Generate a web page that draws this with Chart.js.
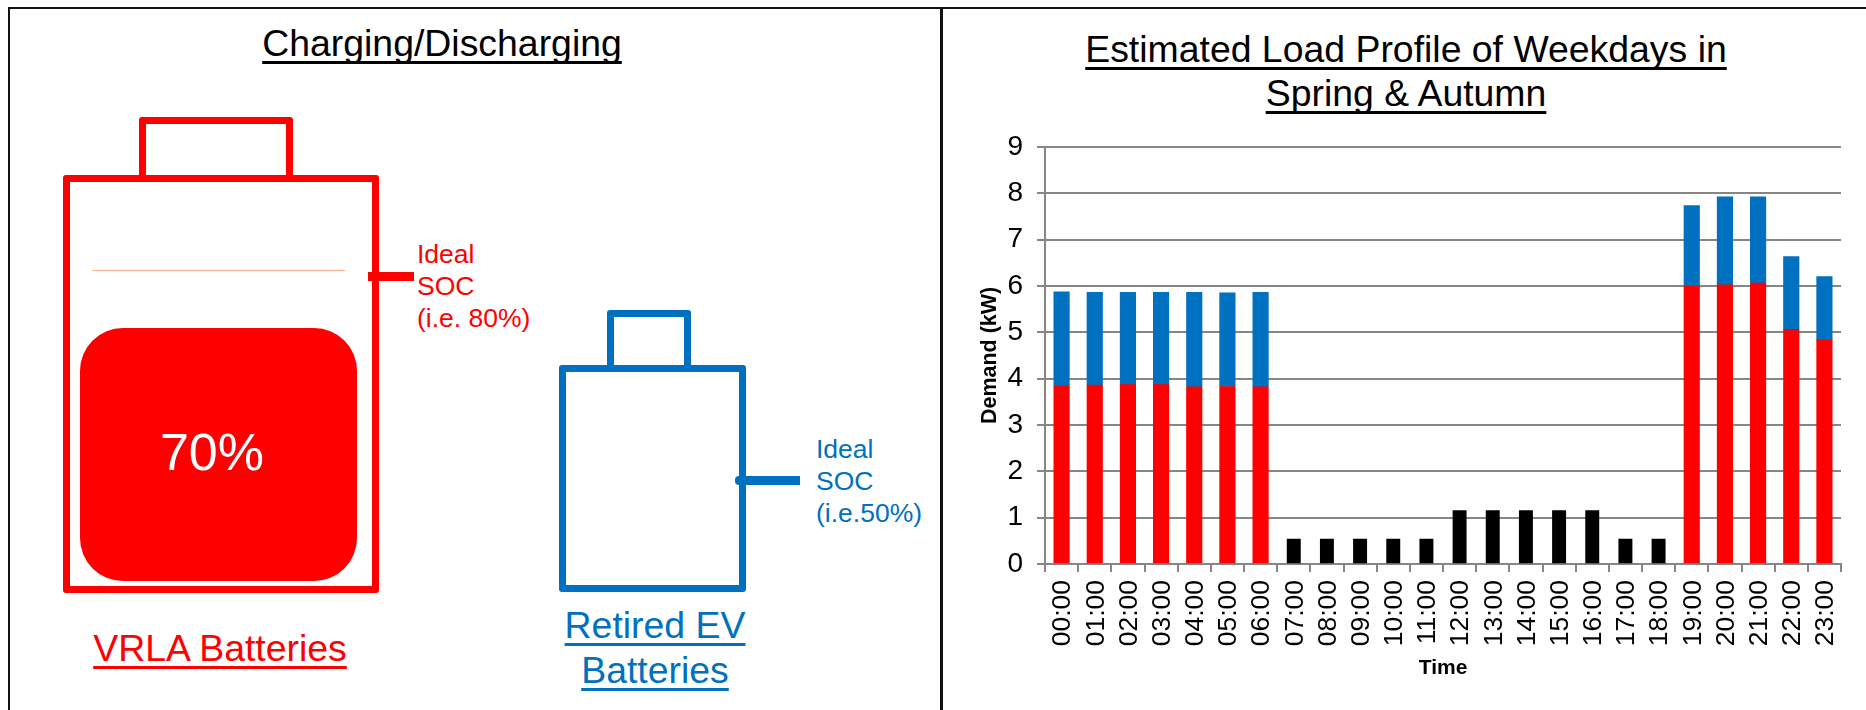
<!DOCTYPE html>
<html>
<head>
<meta charset="utf-8">
<title>Charging/Discharging</title>
<script src="https://cdn.jsdelivr.net/npm/chart.js@4"></script>
<style>
html, body { margin: 0; padding: 0; background: #fff; }
body { width: 1866px; height: 710px; position: relative; overflow: hidden; font-family: "Liberation Sans", Arial, sans-serif; }
.abs { position: absolute; box-sizing: border-box; }
.line { background: #111; }
.txt { white-space: nowrap; }
.head { font-size: 37.4px; text-align: center; text-decoration: underline; text-decoration-thickness: 3px; text-underline-offset: 5px; text-decoration-skip-ink: none; }
.soc { font-size: 26.5px; line-height: 32px; }
.red { color: #FF0000; }
.blue { color: #0070C0; }
.redbox { border: 7.5px solid #FF0000; border-radius: 3px; }
.bluebox { border: 7.5px solid #0070C0; border-radius: 3px; }
#loadChart { position: absolute; left: 975px; top: 116px; }
</style>
</head>
<body>
<!-- panel frame -->
<div class="abs line" style="left:8px;top:7px;width:1858px;height:2px"></div>
<div class="abs line" style="left:8px;top:7px;width:2px;height:703px"></div>
<div class="abs line" style="left:940px;top:7px;width:3px;height:703px"></div>

<!-- left panel -->
<div class="abs txt head" style="left:142px;top:21px;width:600px;line-height:44px;color:#000">Charging/Discharging</div>

<div class="abs redbox" style="left:139px;top:117px;width:154px;height:65px"></div>
<div class="abs redbox" style="left:63px;top:175px;width:316px;height:418px"></div>
<div class="abs" style="left:92px;top:270px;width:253px;height:1px;background:#FFB090"></div>
<div class="abs" style="left:368px;top:272px;width:46px;height:9px;background:#FF0000"></div>
<div class="abs" style="left:80px;top:328px;width:277px;height:253px;background:#FF0000;border-radius:43px"></div>
<div class="abs txt" style="left:112px;top:422px;width:200px;text-align:center;font-size:52px;line-height:60px;color:#fff">70%</div>
<div class="abs txt soc red" style="left:417px;top:237.5px">Ideal<br>SOC<br>(i.e. 80%)</div>
<div class="abs txt head red" style="left:20px;top:626px;width:400px;line-height:44px">VRLA Batteries</div>

<div class="abs bluebox" style="left:607px;top:310px;width:84px;height:62px"></div>
<div class="abs bluebox" style="left:559px;top:365px;width:187px;height:227px"></div>
<div class="abs" style="left:735px;top:476px;width:65px;height:9px;background:#0070C0;border-radius:4px 0 0 4px"></div>
<div class="abs txt soc blue" style="left:816px;top:432.5px">Ideal<br>SOC<br>(i.e.50%)</div>
<div class="abs txt head blue" style="left:405px;top:603px;width:500px;line-height:45px">Retired EV<br>Batteries</div>

<!-- right panel -->
<div class="abs txt head" style="left:1006px;top:28px;width:800px;line-height:43.5px;color:#000">Estimated Load Profile of Weekdays in<br>Spring &amp; Autumn</div>
<canvas id="loadChart" width="891" height="565"></canvas>

<script>
var hours = ['00:00','01:00','02:00','03:00','04:00','05:00','06:00','07:00','08:00','09:00','10:00','11:00',
             '12:00','13:00','14:00','15:00','16:00','17:00','18:00','19:00','20:00','21:00','22:00','23:00'];
var redValues = [3.84,3.86,3.87,3.87,3.82,3.83,3.82,null,null,null,null,null,
                 null,null,null,null,null,null,null,5.99,6.02,6.06,5.06,4.83];
var blueValues = [2.03,2.00,1.99,1.99,2.04,2.02,2.04,null,null,null,null,null,
                  null,null,null,null,null,null,null,1.74,1.90,1.86,1.57,1.37];
var blackValues = [null,null,null,null,null,null,null,0.54,0.54,0.54,0.54,0.54,
                   1.15,1.15,1.15,1.15,1.15,0.54,0.54,null,null,null,null,null];

Chart.defaults.font.family = '"Liberation Sans", Arial, sans-serif';
Chart.defaults.color = '#000';

var ctx = document.getElementById('loadChart').getContext('2d');
var chart = new Chart(ctx, {
    type: 'bar',
    data: {
        labels: hours,
        datasets: [
            { label: 'Red', data: redValues, backgroundColor: '#FF0000', barThickness: 15.5 },
            { label: 'Blue', data: blueValues, backgroundColor: '#0070C0', barThickness: 15.5 },
            { label: 'Black', data: blackValues, backgroundColor: '#000000', barThickness: 13.3 }
        ]
    },
    options: {
        responsive: false,
        animation: false,
        layout: { padding: { top: 0, right: 25, left: 2, bottom: 0 } },
        plugins: { legend: { display: false }, title: { display: false }, tooltip: { enabled: false } },
        scales: {
            x: {
                stacked: true,
                afterFit: function (scale) { scale.height = 117; },
                grid: { drawOnChartArea: false, color: '#868686', lineWidth: 2, tickLength: 8 },
                border: { color: '#868686', width: 2 },
                ticks: { font: { size: 26.5 }, minRotation: 90, maxRotation: 90, autoSkip: false, padding: 8, labelOffset: 1.5 },
                title: { display: true, text: 'Time', font: { size: 21, weight: 'bold' }, padding: 0 }
            },
            y: {
                stacked: true,
                min: 0,
                max: 9,
                afterFit: function (scale) { scale.width = 68; },
                grid: { color: '#868686', lineWidth: 2, tickLength: 8 },
                border: { color: '#868686', width: 2 },
                ticks: { stepSize: 1, font: { size: 28 }, padding: 14 },
                title: { display: true, text: 'Demand (kW)', font: { size: 21.5, weight: 'bold' }, padding: 0 }
            }
        }
    }
});
</script>
</body>
</html>
